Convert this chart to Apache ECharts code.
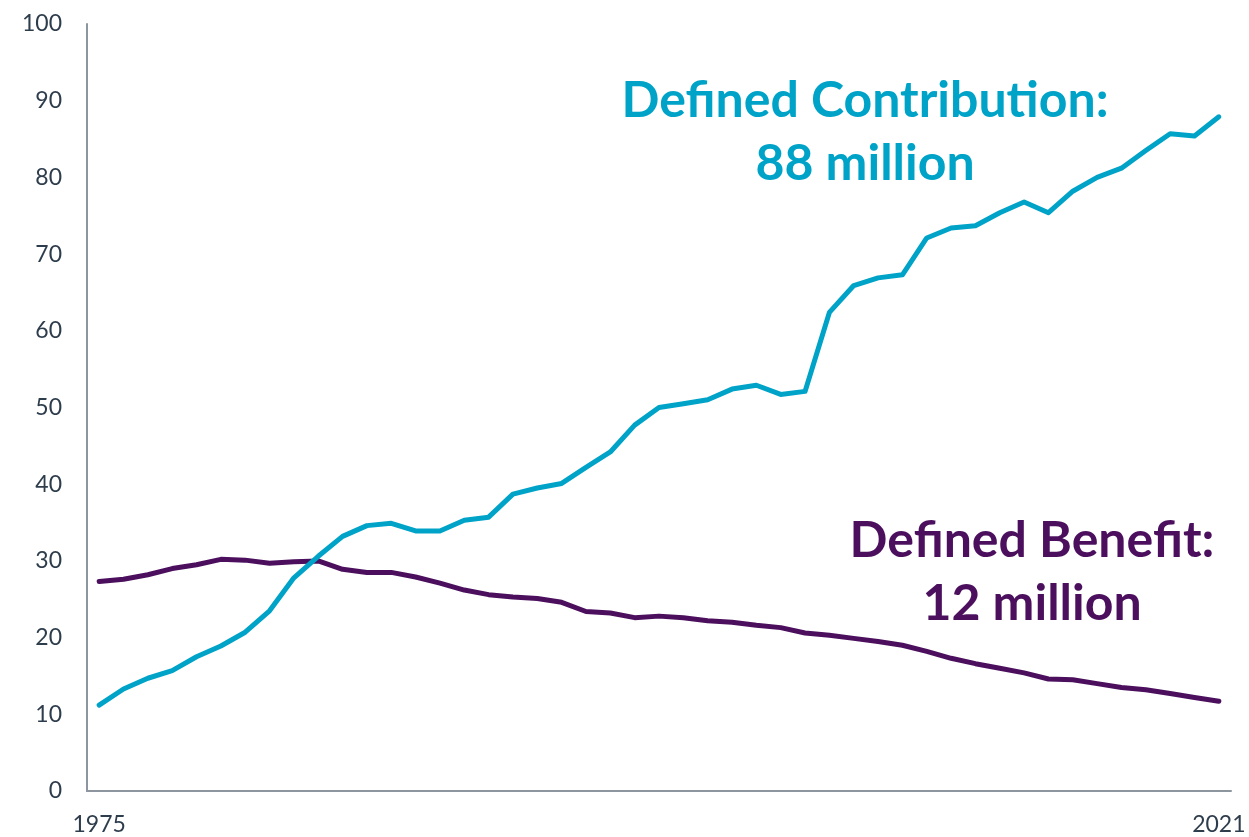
<!DOCTYPE html>
<html>
<head>
<meta charset="utf-8">
<script src="https://cdn.jsdelivr.net/npm/echarts@6/dist/echarts.min.js"></script>
<style>
html,body{margin:0;padding:0;background:#fff;}
#chart{width:1249px;height:837px;}
</style>
</head>
<body>
<div id="chart"></div>
<script>
const years = [];
for (let y = 1975; y <= 2021; y++) years.push(String(y));

const definedContribution = [
  11.2, 13.3, 14.7, 15.7, 17.5, 18.9, 20.7, 23.5, 27.8, 30.6,
  33.2, 34.6, 34.9, 33.9, 33.9, 35.3, 35.7, 38.7, 39.5, 40.1,
  42.2, 44.2, 47.7, 50.0, 50.5, 51.0, 52.4, 52.9, 51.7, 52.1,
  62.4, 65.9, 66.9, 67.3, 72.1, 73.4, 73.7, 75.4, 76.8, 75.4,
  78.2, 80.0, 81.2, 83.5, 85.7, 85.4, 87.9
];
const definedBenefit = [
  27.3, 27.6, 28.2, 29.0, 29.5, 30.2, 30.1, 29.7, 29.9, 30.0,
  28.9, 28.5, 28.5, 27.9, 27.1, 26.2, 25.6, 25.3, 25.1, 24.6,
  23.4, 23.2, 22.6, 22.8, 22.6, 22.2, 22.0, 21.6, 21.3, 20.6,
  20.3, 19.9, 19.5, 19.0, 18.2, 17.3, 16.6, 16.0, 15.4, 14.6,
  14.5, 14.0, 13.5, 13.2, 12.7, 12.2, 11.7
];
const yTicks = { min: 0, max: 100, interval: 10 };
const labels = {
  dc: ['Defined Contribution:', '88 million'],
  db: ['Defined Benefit:', '12 million']
};

const DC_COLOR = '#00A3C8';
const DB_COLOR = '#4B0F5D';
const FONT = 'Lato, "Open Sans", sans-serif';

const chart = echarts.init(document.getElementById('chart'), null, { renderer: 'canvas' });
chart.setOption({
  animation: false,
  backgroundColor: '#ffffff',
  grid: { left: 87, right: 18, top: 24, bottom: 46, containLabel: false },
  xAxis: {
    type: 'category',
    data: years,
    boundaryGap: true,
    axisLine: { show: true, lineStyle: { color: '#8D969E', width: 2 } },
    axisTick: { show: false },
    axisLabel: {
      interval: 0,
      formatter: function (v, i) { return (i === 0 || i === years.length - 1) ? v : ''; },
      color: '#2E3D4C',
      fontFamily: FONT,
      fontSize: 23,
      margin: 22
    },
    splitLine: { show: false }
  },
  yAxis: {
    type: 'value',
    min: yTicks.min,
    max: yTicks.max,
    interval: yTicks.interval,
    axisLine: { show: true, lineStyle: { color: '#8D969E', width: 2 } },
    axisTick: { show: false },
    axisLabel: { color: '#2E3D4C', fontFamily: FONT, fontSize: 23, margin: 25 },
    splitLine: { show: false }
  },
  series: [
    {
      name: 'Defined Contribution',
      type: 'line',
      data: definedContribution,
      symbol: 'none',
      lineStyle: { color: DC_COLOR, width: 5, cap: 'round', join: 'round' },
      itemStyle: { color: DC_COLOR },
      z: 3
    },
    {
      name: 'Defined Benefit',
      type: 'line',
      data: definedBenefit,
      symbol: 'none',
      lineStyle: { color: DB_COLOR, width: 5, cap: 'round', join: 'round' },
      itemStyle: { color: DB_COLOR },
      z: 2
    }
  ],
  graphic: [
    { type: 'text', x: 865, y: 132, style: { text: labels.dc.join('\n'), fill: DC_COLOR, font: 'bold 50px ' + FONT, align: 'center', verticalAlign: 'middle', lineHeight: 63 } },
    { type: 'text', x: 1032, y: 572, style: { text: labels.db.join('\n'), fill: DB_COLOR, font: 'bold 50px ' + FONT, align: 'center', verticalAlign: 'middle', lineHeight: 63 } }
  ]
});
</script>
</body>
</html>
